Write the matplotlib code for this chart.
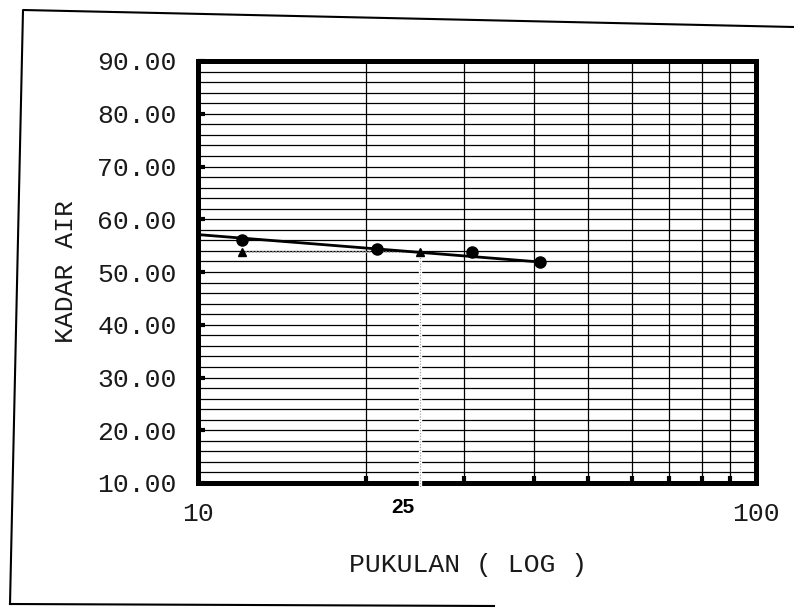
import numpy as np
import matplotlib
matplotlib.use('Agg')
import matplotlib.pyplot as plt
from matplotlib.ticker import MultipleLocator, LogLocator, NullFormatter, FixedLocator
from matplotlib.lines import Line2D

# data
blows = [12, 21, 31, 41]                 # pukulan
moisture = [56.1, 54.4, 53.8, 51.9]      # kadar air (%)
trend_x = [10, 41]
trend_y = [57.1, 51.9]
ll_x = [12, 25]                          # liquid limit marks
ll_y = [53.8, 53.8]

ytick_vals = [10, 20, 30, 40, 50, 60, 70, 80, 90]
xtick_vals = [10, 100]
xtick_labels = ['10', '100']

mono = 'Liberation Mono'
txt_col = '#1a1a1a'

fig = plt.figure(figsize=(7.94, 6.14), dpi=100)
ax = fig.add_axes([197.5/794, 131/614, 558.5/794, 422/614])

ax.set_xscale('log')
ax.set_xlim(10, 100)
ax.set_ylim(10, 90)

# grid
ax.yaxis.set_major_locator(FixedLocator(ytick_vals))
ax.yaxis.set_minor_locator(MultipleLocator(2))
ax.xaxis.set_major_locator(FixedLocator(xtick_vals))
ax.xaxis.set_minor_locator(LogLocator(base=10, subs=np.arange(2, 10)))
ax.xaxis.set_minor_formatter(NullFormatter())
ax.grid(True, which='both', color='black', lw=0.9)
ax.set_axisbelow(True)

ax.set_yticklabels(['%.2f' % v for v in ytick_vals], fontfamily=mono, fontsize=19,
                   color=txt_col)
ax.set_xticklabels(xtick_labels, fontfamily=mono, fontsize=19, color=txt_col)

ax.tick_params(axis='y', which='major', direction='in', length=5, width=3, pad=15)
ax.tick_params(axis='y', which='minor', length=0)
ax.tick_params(axis='x', which='major', direction='in', length=0, pad=14)
ax.tick_params(axis='x', which='minor', direction='in', length=5, width=3)

for s in ax.spines.values():
    s.set_linewidth(3.6)
    s.set_color('black')

# 25 blows marker line
ax.plot([25, 25], [ll_y[1], 9.3], color='white', lw=2.4, clip_on=False, zorder=5)
ax.plot([25, 25], [ll_y[1], 9.3], color='#999999', lw=0.8, ls=(0, (1, 1.5)),
        clip_on=False, zorder=5)
ax.plot(ll_x, ll_y, color='#999999', lw=1.2, ls=(0, (1, 1)), zorder=4)
ax.plot(ll_x, ll_y, '^', color='black', ms=6, zorder=6)

ax.plot(trend_x, trend_y, color='black', lw=2, zorder=4)
ax.plot(blows, moisture, 'o', color='black', ms=8, zorder=6)

ax.annotate('25', xy=(25, 10), xycoords='data', xytext=(-12, -11),
            textcoords='offset points', ha='center', va='top',
            fontfamily='Liberation Sans', fontsize=15, fontweight='bold',
            annotation_clip=False)

ax.set_xlabel('PUKULAN ( LOG )', fontfamily=mono, fontsize=19, labelpad=15,
              color=txt_col)
ax.xaxis.set_label_coords(0.485, -0.165)
ax.set_ylabel('KADAR AIR', fontfamily=mono, fontsize=19, labelpad=14, color=txt_col)

# page frame of the scan
fig.add_artist(Line2D([10/794, 23/794, 1.0], [1-604/614, 1-10/614, 1-27/614],
                      transform=fig.transFigure, color='black', lw=1.5))
fig.add_artist(Line2D([10/794, 494/794], [1-604/614, 1-606/614],
                      transform=fig.transFigure, color='black', lw=1.5))

fig.savefig('out.png', dpi=100)
